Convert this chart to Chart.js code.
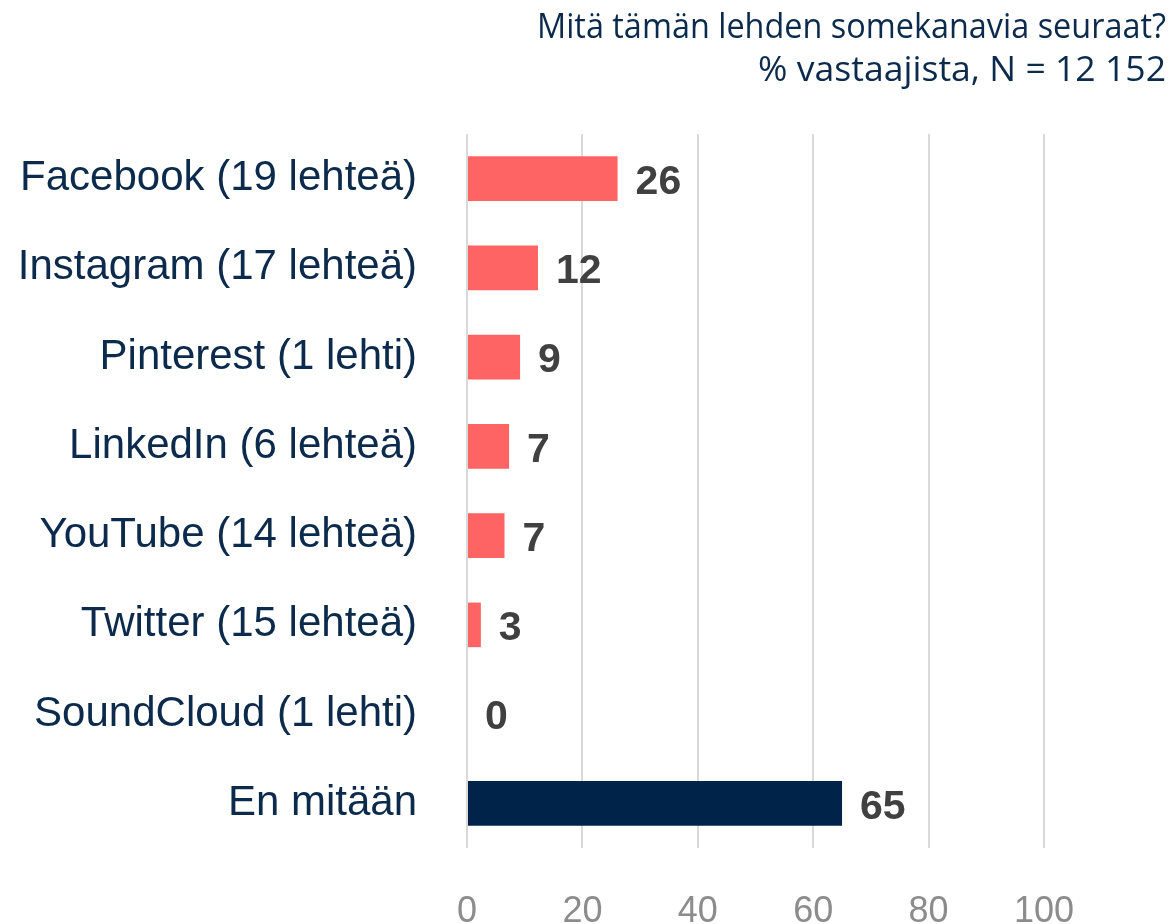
<!DOCTYPE html>
<html>
<head>
<meta charset="utf-8">
<script src="https://cdn.jsdelivr.net/npm/chart.js@4"></script>
<style>
  html, body { margin: 0; padding: 0; background: #fff; }
  #wrap { position: relative; width: 1175px; height: 924px; }
</style>
</head>
<body>
<div id="wrap"><canvas id="chart" width="1175" height="924"></canvas></div>
<script>
// Kategoriat ja arvot (% vastaajista)
const categories = [
    'Facebook (19 lehteä)',
    'Instagram (17 lehteä)',
    'Pinterest (1 lehti)',
    'LinkedIn (6 lehteä)',
    'YouTube (14 lehteä)',
    'Twitter (15 lehteä)',
    'SoundCloud (1 lehti)',
    'En mitään'
];
const values = [26.1, 12.3, 9.2, 7.3, 6.5, 2.4, 0, 65];
const valueLabels = ['26', '12', '9', '7', '7', '3', '0', '65'];
const xTicks = [0, 20, 40, 60, 80, 100];
const titleLines = ['Mitä tämän lehden somekanavia seuraat?', '% vastaajista, N = 12 152'];

const barColors = values.map((v, i) => i === values.length - 1 ? '#00234A' : '#FF6464');

// Arvot palkkien perään
const valueLabelPlugin = {
    id: 'valueLabels',
    afterDatasetsDraw(chart) {
        const ctx = chart.ctx;
        const meta = chart.getDatasetMeta(0);
        ctx.save();
        ctx.font = 'bold 41px "Liberation Sans", Arial, sans-serif';
        ctx.fillStyle = '#404040';
        ctx.textAlign = 'left';
        ctx.textBaseline = 'middle';
        meta.data.forEach((bar, i) => {
            ctx.fillText(valueLabels[i], bar.x + 18, bar.y + 4);
        });
        ctx.restore();
    }
};

// Otsikko oikeaan yläkulmaan (kapeampi kirjasin -> skaalataan vaakasuunnassa)
const titleWidths = [629, 408];
const titlePlugin = {
    id: 'rightTitle',
    afterDraw(chart) {
        const ctx = chart.ctx;
        ctx.save();
        ctx.font = '34px "Open Sans", "Noto Sans", sans-serif';
        ctx.fillStyle = '#0B2A4C';
        ctx.textAlign = 'right';
        ctx.textBaseline = 'middle';
        const ys = [28, 71];
        titleLines.forEach((line, i) => {
            const w = ctx.measureText(line).width;
            const sx = titleWidths[i] / w;
            ctx.save();
            ctx.translate(1166, ys[i]);
            ctx.scale(sx, 1);
            ctx.fillText(line, 0, 0);
            ctx.restore();
        });
        ctx.restore();
    }
};

new Chart(document.getElementById('chart').getContext('2d'), {
    type: 'bar',
    data: {
        labels: categories,
        datasets: [{
            data: values,
            backgroundColor: barColors,
            borderWidth: 0,
            barPercentage: 0.5,
            categoryPercentage: 1.0
        }]
    },
    options: {
        indexAxis: 'y',
        responsive: false,
        animation: false,
        layout: { padding: { top: 134, right: 131, bottom: 0, left: 0 } },
        plugins: {
            legend: { display: false },
            tooltip: { enabled: false },
            title: { display: false }
        },
        scales: {
            x: {
                min: 0,
                max: 100,
                afterBuildTicks: (scale) => { scale.ticks = xTicks.map(v => ({ value: v })); },
                afterFit: (scale) => { scale.height = 76; },
                grid: { color: '#D9D9D9', lineWidth: 2, drawTicks: false },
                border: { display: false },
                ticks: {
                    padding: 42,
                    color: '#8C8C8C',
                    font: { family: '"Liberation Sans", Arial, sans-serif', size: 36 }
                }
            },
            y: {
                afterFit: (scale) => { scale.width = 467; },
                grid: { display: false, drawTicks: false },
                border: { display: false },
                ticks: {
                    padding: 50,
                    color: '#0B2A4C',
                    font: { family: '"Liberation Sans", Arial, sans-serif', size: 42 }
                }
            }
        }
    },
    plugins: [valueLabelPlugin, titlePlugin]
});
</script>
</body>
</html>
